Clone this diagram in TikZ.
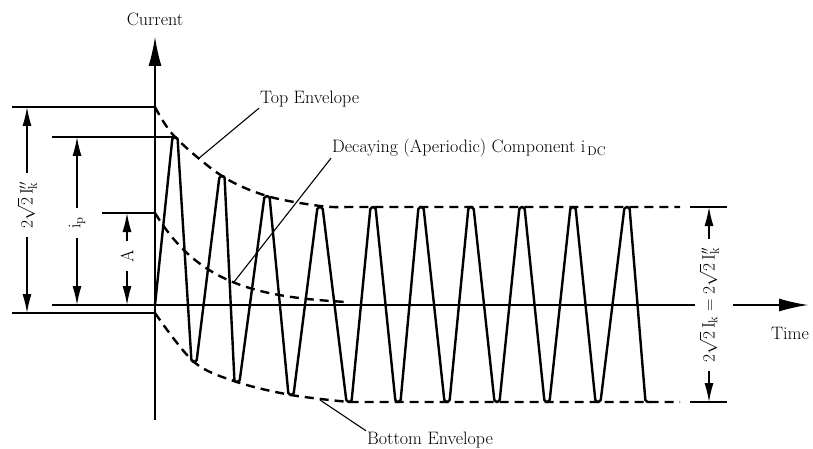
\documentclass[tikz,border=0pt]{standalone}
\usepackage{fontspec}
\usetikzlibrary{arrows.meta,positioning}
\tikzset{
  wave/.style={line width=2.4pt, rounded corners=2pt, line join=round},
  envelope/.style={line width=2.4pt, dash pattern=on 9pt off 6pt},
  extline/.style={line width=1.2pt},
  leader/.style={line width=1.1pt},
  dimarrow/.style={line width=1.3pt, {Latex[length=19pt,width=9pt]}-{Latex[length=19pt,width=9pt]}},
  axisarrow/.style={line width=1.3pt, -{Latex[length=29pt,width=13pt]}},
  lbl/.style={font=\fontsize{18}{21.6}\selectfont, inner sep=1pt},
  dimlbl/.style={lbl, rotate=90, fill=white, inner xsep=9pt, inner ysep=2pt},
}
\begin{document}
\begin{tikzpicture}[x=1pt, y=-1pt]
        \useasboundingbox (0,0) rectangle (813,449);

        % Axes
        \coordinate (O) at (155,305);
        \coordinate (ytop) at (155,37);
        \coordinate (ybot) at (155,420);
        \coordinate (xleft) at (52,305);
        \coordinate (xgapl) at (695,305);
        \coordinate (xgapr) at (733,305);
        \coordinate (xright) at (808,305);
        \draw[axisarrow] (ybot) -- (ytop);
        \draw[extline] (xleft) -- (xgapl);
        \draw[axisarrow] (xgapr) -- (xright);
        \node[lbl] (current) at (155,19) {Current};
        \node[lbl] (time) at (790,333) {Time};

        % Extension lines
        \draw[extline] (12,107) -- (155,107);
        \draw[extline] (12,313) -- (155,313);
        \draw[extline] (52,137) -- (175,137);
        \draw[extline] (102,213) -- (155,213);
        \draw[extline] (690,207) -- (727,207);
        \draw[extline] (690,402) -- (727,402);

        % Envelopes
        \draw[envelope] plot[smooth, tension=0.55] coordinates {(155,107) (175,137) (222,176) (267,196) (320,206) (347,207)} -- (680,207);
        \draw[envelope] plot[smooth, tension=0.55] coordinates {(155,313) (194,362) (237,382) (291,395) (349,402)} -- (680,402);

        % DC component
        \draw[envelope] plot[domain=155:347, samples=50] (\x, {305-92*exp(-(\x-155)/56)});
        \draw[line width=2.4pt] (347,305) -- (xgapl);

        % Short-circuit current
        \draw[wave] (O)
          \foreach \xp/\yp in {175/137, 194/362, 222/176, 237/382, 267/196, 291/395,
                               320/207, 349/402, 373/207, 398/402, 421/207, 447/402,
                               471/207, 497/402, 522/207, 547/402, 573/207, 598/402,
                               627/207, 648/402}
          { -- (\xp-2.5,\yp) -- (\xp+2.5,\yp) };

        % Dimensions left
        \coordinate (d1t) at (27,107);
        \coordinate (d1b) at (27,313);
        \draw[dimarrow] (d1t) -- (d1b);
        \node[dimlbl] (ikpeak) at (27,205) {$2\sqrt{2}\,\mathrm{I}''_{\mathrm{k}}$};
        \coordinate (d2t) at (77,137);
        \coordinate (d2b) at (77,305);
        \draw[dimarrow] (d2t) -- (d2b);
        \node[dimlbl] (ip) at (77,223) {i$_{\mathrm{p}}$};
        \coordinate (d3t) at (127,213);
        \coordinate (d3b) at (127,305);
        \draw[dimarrow] (d3t) -- (d3b);
        \node[dimlbl] (amp) at (127,256) {A};

        % Dimension right
        \coordinate (d4t) at (709,207);
        \coordinate (d4b) at (709,402);
        \draw[dimarrow] (d4t) -- (d4b);
        \node[dimlbl] (ik) at (709,305) {$2\sqrt{2}\,\mathrm{I}_{\mathrm{k}} = 2\sqrt{2}\,\mathrm{I}''_{\mathrm{k}}$};

        % Labels with leaders
        \node[lbl, anchor=west] (toplbl) at (259,99) {Top Envelope};
        \coordinate (topend) at (198,159);
        \draw[leader] (toplbl.south west) -- (topend);
        \node[lbl, anchor=west] (dclbl) at (331,148) {Decaying (Aperiodic) Component i$_{\,\mathrm{DC}}$};
        \coordinate (dcend) at (234,282);
        \draw[leader] (dclbl.south west) -- (dcend);
        \node[lbl, anchor=west] (botlbl) at (366,440) {Bottom Envelope};
        \coordinate (botend) at (320,400);
        \draw[leader] (botlbl.north west) -- (botend);
\end{tikzpicture}
\end{document}
